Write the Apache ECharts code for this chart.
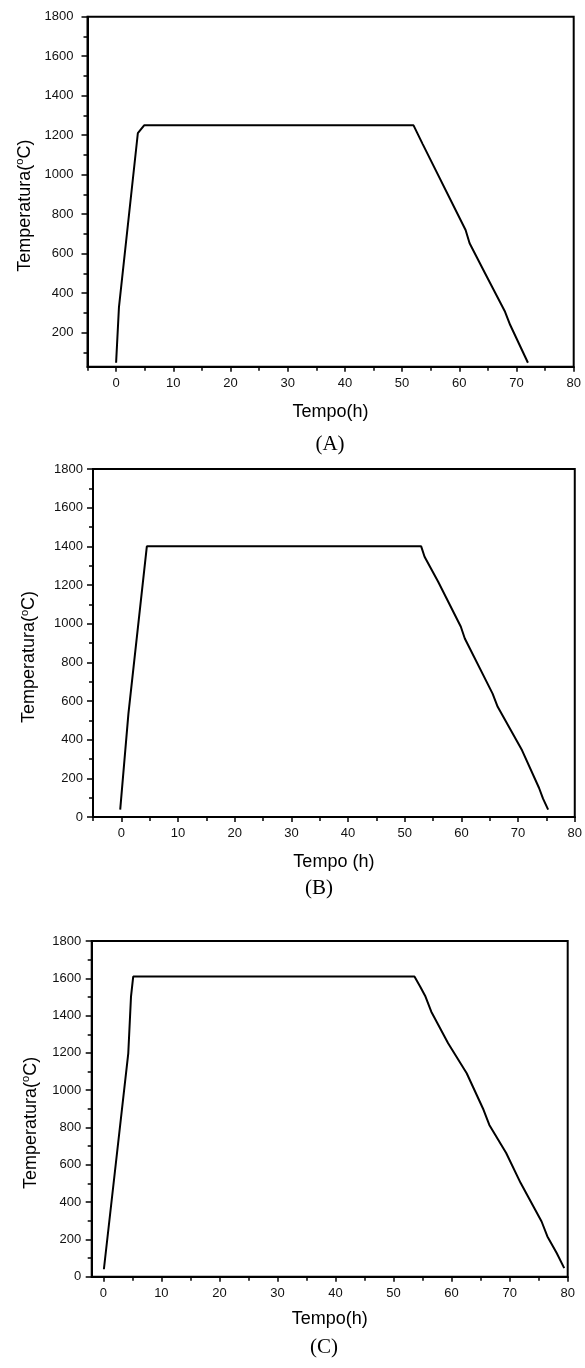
<!DOCTYPE html>
<html><head><meta charset="utf-8">
<script src="https://cdn.jsdelivr.net/npm/echarts@6/dist/echarts.min.js"></script>
<style>html,body{margin:0;padding:0;background:#fff}#c{width:585px;height:1368px}</style>
</head><body><div id="c"></div>
<script>
// Panel A
const timeA = [0, 0.5, 3.8, 4.9, 52.0, 53.6, 61.1, 61.8, 64.5, 68.0, 68.9, 72.0];
const tempA = [48, 330, 1210, 1250, 1250, 1155, 720, 653, 501, 306, 239, 48];
// Panel B
const timeB = [-0.2, 1.25, 4.5, 52.9, 53.5, 55.9, 59.9, 60.6, 65.5, 66.4, 70.7, 73.7, 74.4, 75.3];
const tempB = [38, 535, 1400, 1400, 1346, 1217, 984, 923, 638, 570, 345, 150, 95, 38];
// Panel C
const timeC = [0.1, 4.3, 4.77, 5.15, 53.6, 54.6, 55.5, 56.5, 59.4, 62.6, 65.5, 66.5, 69.4, 71.9, 75.5, 76.5, 78.1, 79.4];
const tempC = [40, 1198, 1502, 1609, 1609, 1555, 1502, 1421, 1252, 1091, 895, 814, 663, 502, 296, 216, 127, 46];

// Ticks
const xMajorTicks = [0, 10, 20, 30, 40, 50, 60, 70, 80];
const xMinorTicks = [-5, 5, 15, 25, 35, 45, 55, 65, 75];
const yMajorTicksA = [200, 400, 600, 800, 1000, 1200, 1400, 1600, 1800];
const yMajorTicks = [0, 200, 400, 600, 800, 1000, 1200, 1400, 1600, 1800];
const yMinorTicks = [100, 300, 500, 700, 900, 1100, 1300, 1500, 1700];

const xTitles = ['Tempo(h)', 'Tempo (h)', 'Tempo(h)'];
const panelLabels = ['(A)', '(B)', '(C)'];

const SANS = '"Liberation Sans", Arial, sans-serif';
const SERIF = '"Liberation Serif", "Times New Roman", serif';

const panels = [
  { t: timeA, v: tempA, xmin: -5, ymin: 28, yMaj: yMajorTicksA,
    grid: {left: 87.5, top: 16.7, width: 486.2, height: 350},
    yLabMargin: 14, yNameGap: 52, xNameGap: 36, label: {x: 330, y: 444} },
  { t: timeB, v: tempB, xmin: -5, ymin: 0, yMaj: yMajorTicks,
    grid: {left: 93, top: 469, width: 487, height: 348},
    yLabMargin: 10, yNameGap: 53, xNameGap: 36, label: {x: 319, y: 888} },
  { t: timeC, v: tempC, xmin: -2, ymin: 0, yMaj: yMajorTicks,
    grid: {left: 91.7, top: 941, width: 476, height: 335.7},
    yLabMargin: 10.5, yNameGap: 50, xNameGap: 33, label: {x: 324, y: 1347} }
];

const fmt = v => String(Math.round(v));

const grid = [], xAxis = [], yAxis = [], series = [], graphic = [];
panels.forEach((p, i) => {
  grid.push(Object.assign({show: true, borderColor: '#000', borderWidth: 2, backgroundColor: 'transparent'}, p.grid));
  // major x
  xAxis.push({
    type: 'value', gridIndex: i, position: 'bottom', min: p.xmin, max: 80,
    name: xTitles[i], nameLocation: 'middle', nameGap: p.xNameGap,
    nameTextStyle: {fontFamily: SANS, fontSize: 18, color: '#000'},
    axisLine: {show: true, onZero: false, lineStyle: {color: '#000', width: 2}},
    axisTick: {show: true, inside: false, length: 5, lineStyle: {color: '#000', width: 1.5}, customValues: xMajorTicks},
    axisLabel: {show: true, margin: 10, fontFamily: SANS, fontSize: 13, color: '#111', customValues: xMajorTicks, formatter: fmt},
    splitLine: {show: false}
  });
  // minor x
  xAxis.push({
    type: 'value', gridIndex: i, position: 'bottom', min: p.xmin, max: 80,
    axisLine: {show: false, onZero: false},
    axisTick: {show: true, inside: false, length: 4, lineStyle: {color: '#000', width: 1.5}, customValues: xMinorTicks},
    axisLabel: {show: false},
    splitLine: {show: false}
  });
  // major y
  yAxis.push({
    type: 'value', gridIndex: i, position: 'left', min: p.ymin, max: 1800,
    name: '{t|Temperatura(}{s|o}{t|C)}', nameLocation: 'middle', nameGap: p.yNameGap,
    nameTextStyle: {fontFamily: SANS, fontSize: 18, color: '#000', padding: [0, 28, 0, 0],
      rich: {t: {fontFamily: SANS, fontSize: 18, color: '#000', lineHeight: 21},
             s: {fontFamily: SANS, fontSize: 11, color: '#000', verticalAlign: 'top', lineHeight: 21}}},
    axisLine: {show: true, onZero: false, lineStyle: {color: '#000', width: 2}},
    axisTick: {show: true, inside: false, length: 6, lineStyle: {color: '#000', width: 1.5}, customValues: p.yMaj},
    axisLabel: {show: true, margin: p.yLabMargin, fontFamily: SANS, fontSize: 13, color: '#111', customValues: p.yMaj, formatter: fmt},
    splitLine: {show: false}
  });
  // minor y
  yAxis.push({
    type: 'value', gridIndex: i, position: 'left', min: p.ymin, max: 1800,
    axisLine: {show: false, onZero: false},
    axisTick: {show: true, inside: false, length: 4, lineStyle: {color: '#000', width: 1.5}, customValues: yMinorTicks},
    axisLabel: {show: false},
    splitLine: {show: false}
  });
  series.push({
    type: 'line', xAxisIndex: 2 * i, yAxisIndex: 2 * i,
    data: p.t.map((t, k) => [t, p.v[k]]),
    showSymbol: false, symbol: 'none', silent: true,
    lineStyle: {color: '#000', width: 2}
  });
  graphic.push({
    type: 'text', x: p.label.x, y: p.label.y,
    style: {text: panelLabels[i], font: '21px ' + SERIF, fill: '#000', align: 'center', verticalAlign: 'middle'}
  });
});

const chart = echarts.init(document.getElementById('c'), null, {renderer: 'canvas'});
chart.setOption({
  animation: false,
  backgroundColor: '#fff',
  grid, xAxis, yAxis, series, graphic
});
</script>
</body></html>
